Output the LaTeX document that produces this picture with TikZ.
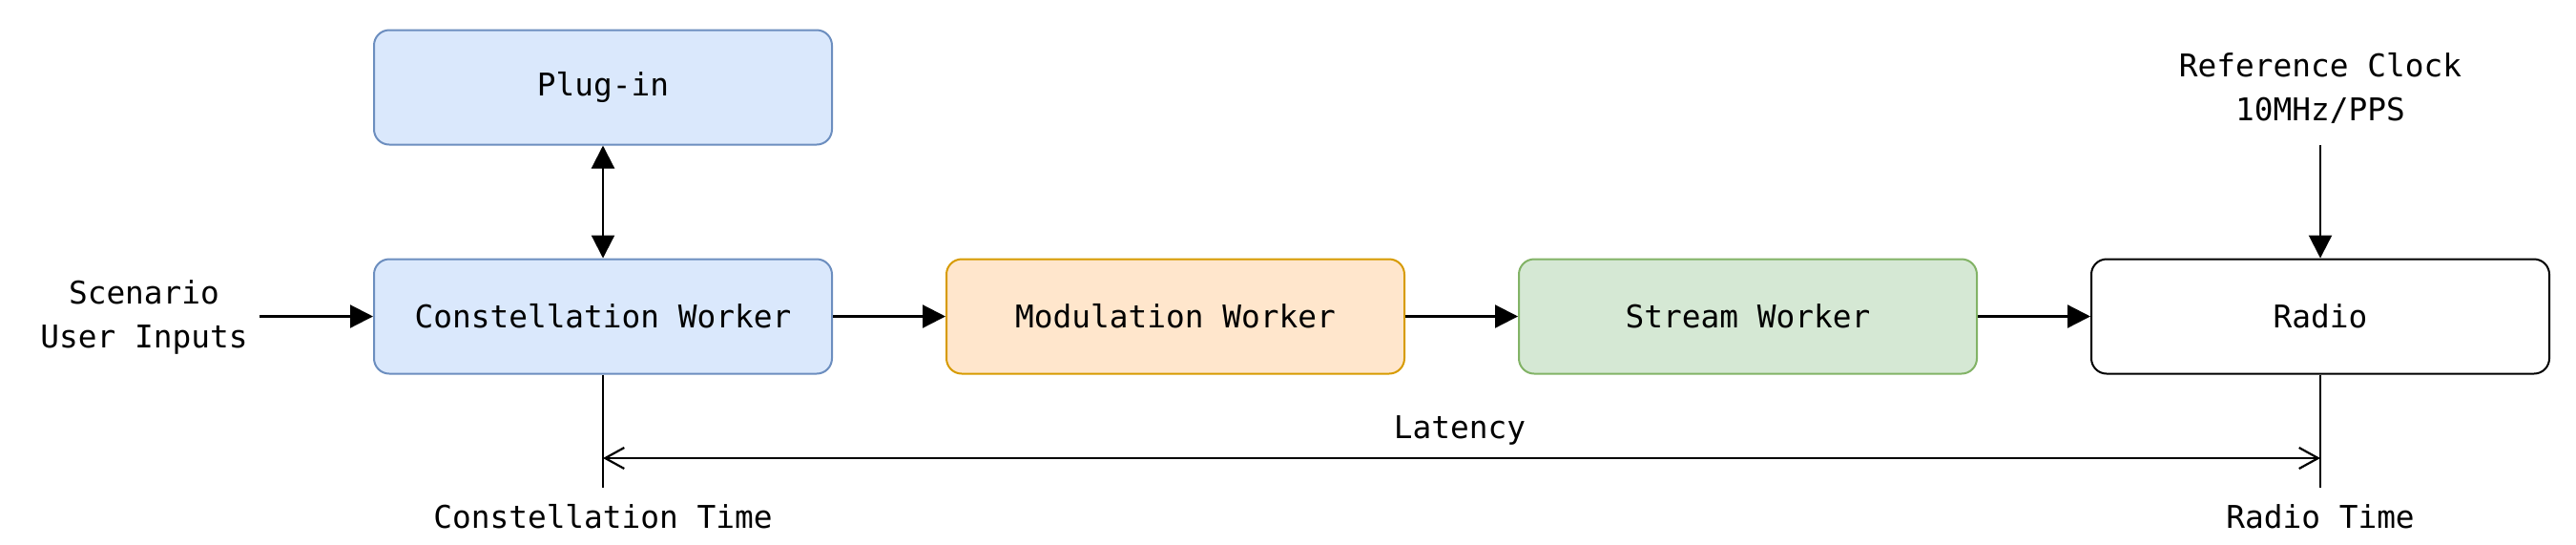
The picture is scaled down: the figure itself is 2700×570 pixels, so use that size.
\documentclass[tikz,border=0pt]{standalone}
\usepackage{fontspec}
\setmonofont{DejaVu Sans Mono}
\usetikzlibrary{arrows.meta}
\definecolor{bluefill}{HTML}{DAE8FC}
\definecolor{bluedraw}{HTML}{6C8EBF}
\definecolor{orangefill}{HTML}{FFE6CC}
\definecolor{orangedraw}{HTML}{D79B00}
\definecolor{greenfill}{HTML}{D5E8D4}
\definecolor{greendraw}{HTML}{82B366}
\tikzset{
  lbl/.style={font=\ttfamily\fontsize{16.4}{23}\selectfont, align=center, inner sep=0pt},
  box/.style={lbl, rounded corners=8pt, line width=1pt, minimum width=240pt, minimum height=60pt},
  conn/.style={line width=1.1pt, -{Triangle[length=12pt,width=12pt]}},
  tick/.style={line width=1.1pt},
  span/.style={line width=1.1pt, {Straight Barb[length=10pt,width=11pt]}-{Straight Barb[length=10pt,width=11pt]}}
}
\begin{document}
\begin{tikzpicture}[x=0.5pt,y=-0.5pt]
\useasboundingbox (0,0) rectangle (2700,570);
\node[box, fill=bluefill, draw=bluedraw] (plug) at (632,91.5) {Plug-in};
\node[box, fill=bluefill, draw=bluedraw] (cw) at (632,331.5) {Constellation Worker};
\node[box, fill=orangefill, draw=orangedraw] (mw) at (1232,331.5) {Modulation Worker};
\node[box, fill=greenfill, draw=greendraw] (sw) at (1832,331.5) {Stream Worker};
\node[box, fill=white, draw=black] (radio) at (2432,331.5) {Radio};

\node[lbl] (scen) at (151,332) {Scenario\\User Inputs};
\node[lbl] (clock) at (2432,92) {Reference Clock\\10MHz/PPS};
\node[lbl] (ctime) at (632,541) {Constellation Time};
\node[lbl] (rtime) at (2432,541) {Radio Time};
\node[lbl] (lat) at (1530,451) {Latency};

\coordinate (scenout) at (272,331.5);
\coordinate (clockout) at (2432,152);
\coordinate (ctick) at (632,511);
\coordinate (rtick) at (2432,511);
\coordinate (lstart) at (632,480);
\coordinate (lend) at (2432,480);

\draw[conn] (scenout) -- (cw.west);
\draw[conn] (cw.east) -- (mw.west);
\draw[conn] (mw.east) -- (sw.west);
\draw[conn] (sw.east) -- (radio.west);
\draw[conn] (clockout) -- (radio.north);
\draw[conn, {Triangle[length=12pt,width=12pt]}-{Triangle[length=12pt,width=12pt]}] (plug.south) -- (cw.north);
\draw[tick] (cw.south) -- (ctick);
\draw[tick] (radio.south) -- (rtick);
\draw[span] (lstart) -- (lend);
\end{tikzpicture}
\end{document}
